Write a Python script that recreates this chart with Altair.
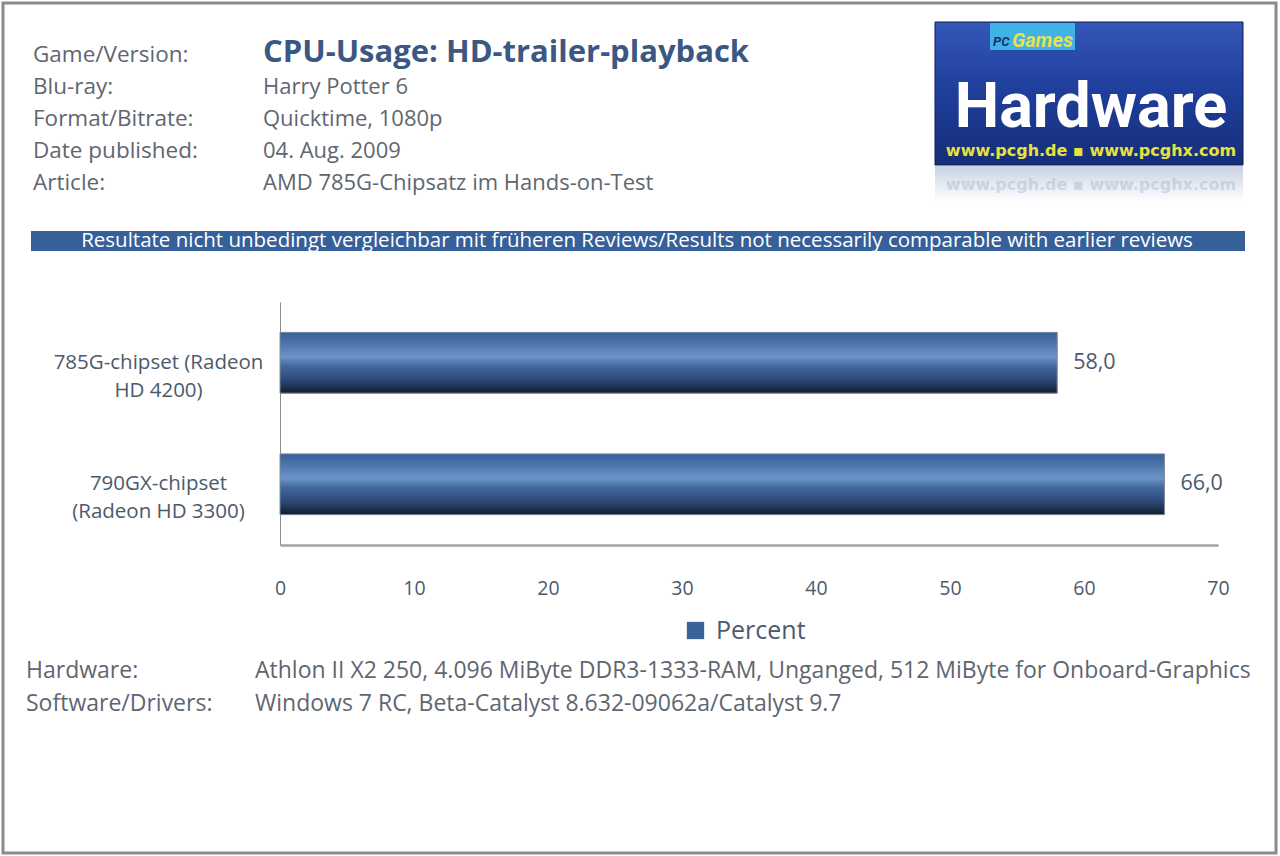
import altair as alt
import pandas as pd

# ---------------- data ----------------
categories = ["785G-chipset (Radeon\nHD 4200)", "790GX-chipset\n(Radeon HD 3300)"]
values = [58.0, 66.0]
series_name = "Percent"
x_ticks = [0, 10, 20, 30, 40, 50, 60, 70]

header_labels = ["Game/Version:", "Blu-ray:", "Format/Bitrate:", "Date published:", "Article:"]
title_text = "CPU-Usage: HD-trailer-playback"
header_values = ["Harry Potter 6", "Quicktime, 1080p", "04. Aug. 2009",
                 "AMD 785G-Chipsatz  im Hands-on-Test"]
banner_text = ("Resultate nicht unbedingt  vergleichbar mit früheren Reviews/"
               "Results not necessarily comparable with earlier reviews")
footer_labels = ["Hardware:", "Software/Drivers:"]
footer_values = ["Athlon II X2 250, 4.096 MiByte DDR3-1333-RAM, Unganged, 512 MiByte for Onboard-Graphics",
                 "Windows 7 RC, Beta-Catalyst  8.632-09062a/Catalyst 9.7"]

df = pd.DataFrame({
    "name": categories,
    "value": values,
    "series": [series_name] * len(values),
})
df["label"] = [f"{v:.1f}".replace(".", ",") for v in values]

FONT = "Open Sans"
GRAY = "#5f6670"
LABEL = "#4b5a6c"
one = pd.DataFrame({"a": [0]})


def txt(text, x, y, size, color, weight="normal", align="left", baseline="alphabetic",
        font=FONT, line_height=None, opacity=1.0, italic=False):
    kw = dict(text=text, fontSize=size, color=color, fontWeight=weight, align=align,
              baseline=baseline, font=font, opacity=opacity)
    if line_height is not None:
        kw["lineHeight"] = line_height
    if italic:
        kw["fontStyle"] = "italic"
    return alt.Chart(one).mark_text(**kw).encode(x=alt.value(x), y=alt.value(y))


def box(x1, x2, y1, y2, **kw):
    return alt.Chart(one).mark_rect(**kw).encode(
        x=alt.value(x1), x2=alt.value(x2), y=alt.value(y1), y2=alt.value(y2))


# plot origin is at page (280, 302); annotation coordinates are relative to it
border = box(-277, 996, -299, 551, fill="white", fillOpacity=0, stroke="#8a8a8a", strokeWidth=3)

logo_grad = alt.Gradient(gradient="linear", x1=0, x2=0, y1=0, y2=1,
                         stops=[alt.GradientStop(color="#3356b8", offset=0),
                                alt.GradientStop(color="#1f3e9a", offset=0.5),
                                alt.GradientStop(color="#162e78", offset=1)])
logo_bg = box(655, 963, -280, -137, color=logo_grad, stroke="#0d1f55", strokeWidth=1)
refl_grad = alt.Gradient(gradient="linear", x1=0, x2=0, y1=0, y2=1,
                         stops=[alt.GradientStop(color="#c9d2e4", offset=0),
                                alt.GradientStop(color="#ffffff", offset=1)])
logo_refl = box(655, 963, -136, -100, color=refl_grad)
logo_pc = box(710, 795, -279, -252, color="#3fb3e6")
logo_pc_t = txt("PC", 713, -256, 13, "#1a2f70", weight="bold", italic=True, font="Roboto")
logo_games = txt("Games", 732, -255, 20, "#e9e04a", weight="bold", italic=True, font="Roboto")
logo_hw = txt("Hardware", 811, -175, 63, "white", weight="bold", align="center", font="Roboto")
logo_url = txt("www.pcgh.de ▪ www.pcghx.com", 811, -146, 16, "#e8e23c", weight="bold",
               align="center", font="DejaVu Sans")
logo_url_refl = txt("www.pcgh.de ▪ www.pcghx.com", 811, -112, 16, "#9aa6c4", weight="bold",
                    align="center", font="DejaVu Sans", opacity=0.35)

hdr1 = txt(header_labels, -247, -240, 22.5, GRAY, line_height=32)
title = txt(title_text, -17, -240, 31, "#3a5883", weight="bold")
hdr2 = txt(header_values, -17, -208, 22, GRAY, line_height=32)

banner = box(-249, 965, -71, -51, color="#36609a")
banner_t = txt(banner_text, 357, -61, 20.5, "white", align="center", baseline="middle")

foot1 = txt(footer_labels, -254, 376, 23, GRAY, line_height=33)
foot2 = txt(footer_values, -25, 376, 23, GRAY, line_height=33)

# ---------------- bars ----------------
y_enc = alt.Y("name:N", sort=None,
              scale=alt.Scale(paddingInner=0.5, paddingOuter=0.25),
              axis=alt.Axis(title=None, ticks=False, domainColor="#8c8c8c", domainWidth=1,
                            labelAlign="center", labelPadding=122, labelFontSize=20.5,
                            labelColor=LABEL, labelFont=FONT, labelLineHeight=28,
                            labelExpr="split(datum.label, '\\n')", labelLimit=400))
x_enc = alt.X("value:Q",
              scale=alt.Scale(domain=[0, 70], nice=False),
              axis=alt.Axis(title=None, values=x_ticks, ticks=False, grid=False,
                            domainColor="#a3a3a3", domainWidth=2.5, labelPadding=34,
                            labelFontSize=19.5, labelColor=LABEL, labelFont=FONT,
                            labelFlush=False, labelOverlap=False))

solid = alt.Chart(df).mark_bar().encode(
    x=x_enc, y=y_enc,
    color=alt.Color("series:N", scale=alt.Scale(range=["#3a6399"]),
                    legend=alt.Legend(title=None, orient="none", legendX=403, legendY=316,
                                      symbolType="square", symbolSize=300, symbolStrokeWidth=0,
                                      labelFontSize=25, labelColor=LABEL, labelFont=FONT,
                                      labelOffset=8, padding=0)))

bar_grad = alt.Gradient(gradient="linear", x1=0, x2=0, y1=0, y2=1,
                        stops=[alt.GradientStop(color="#38609a", offset=0),
                               alt.GradientStop(color="#4c74aa", offset=0.18),
                               alt.GradientStop(color="#6c95c9", offset=0.4),
                               alt.GradientStop(color="#44699e", offset=0.55),
                               alt.GradientStop(color="#2a4673", offset=0.8),
                               alt.GradientStop(color="#121d30", offset=1)])
grad = alt.Chart(df).mark_bar(color=bar_grad, stroke="#7d8a99", strokeWidth=1).encode(
    x="value:Q", y=alt.Y("name:N", sort=None))

labels = alt.Chart(df).mark_text(align="left", baseline="middle", dx=16, fontSize=21.5,
                                 color=LABEL, font=FONT).encode(
    x="value:Q", y=alt.Y("name:N", sort=None), text="label:N")

chart = alt.layer(
    border, logo_refl, logo_bg, logo_pc, logo_pc_t, logo_games, logo_hw, logo_url, logo_url_refl,
    hdr1, title, hdr2, banner, banner_t, foot1, foot2,
    solid, grad, labels
).properties(
    width=938, height=243,
    padding={"left": 280, "top": 302, "right": 62, "bottom": 311},
    autosize=alt.AutoSizeParams(type="none"),
    background="white",
).configure_view(stroke=None)

chart.save("out.html", embed_options={"renderer": "svg", "actions": False})
